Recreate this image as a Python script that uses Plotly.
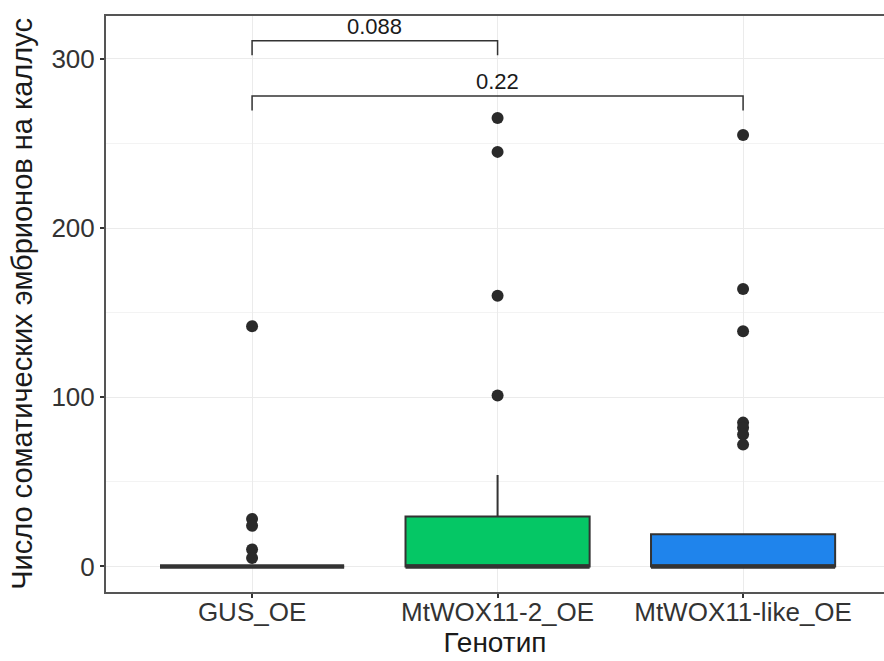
import plotly.graph_objects as go

categories = ["GUS_OE", "MtWOX11-2_OE", "MtWOX11-like_OE"]
q1 = [0, 0, 0]
median = [0, 0, 0]
q3 = [0, 29.5, 19]
lower_fence = [0, 0, 0]
upper_fence = [0, 54, 19]
outliers = [
    [142, 28, 24, 10, 5],
    [265, 245, 160, 101],
    [255, 164, 139, 85, 82, 78, 72],
]
fills = ["#F8766D", "#05C765", "#1F84EC"]

bracket_from = [0, 0]
bracket_to = [1, 2]
bracket_y = [310.6, 278]
bracket_tip = 8.5
bracket_labels = ["0.088", "0.22"]

y_ticks = [0, 100, 200, 300]
y_minor = [50, 150, 250]

box_half = 0.375
line_col = "#333333"

fig = go.Figure()
for i, cat in enumerate(categories):
    fig.add_trace(go.Box(
        x=[i], q1=[q1[i]], median=[median[i]], q3=[q3[i]],
        lowerfence=[lower_fence[i]], upperfence=[upper_fence[i]],
        fillcolor=fills[i], line=dict(color=line_col, width=2),
        boxpoints=False, width=2 * box_half, whiskerwidth=0,
        showlegend=False, hoverinfo="skip",
    ))
    fig.add_trace(go.Scatter(
        x=[i - box_half, i + box_half], y=[median[i], median[i]],
        mode="lines", line=dict(color=line_col, width=4.5),
        showlegend=False, hoverinfo="skip",
    ))
    fig.add_trace(go.Scatter(
        x=[i] * len(outliers[i]), y=outliers[i], mode="markers",
        marker=dict(color="#2a2a2a", size=12),
        showlegend=False, hoverinfo="skip",
    ))

for a, b, yv, lab in zip(bracket_from, bracket_to, bracket_y, bracket_labels):
    fig.add_shape(type="path", xref="x", yref="y",
                  path=f"M {a} {yv - bracket_tip} L {a} {yv} L {b} {yv} L {b} {yv - bracket_tip}",
                  line=dict(color="#333333", width=1.5))
    fig.add_annotation(x=(a + b) / 2, y=yv, xref="x", yref="y", text=lab,
                       showarrow=False, yanchor="bottom", yshift=0,
                       font=dict(size=22, color="#1a1a1a"))

fig.update_layout(
    width=884, height=661,
    margin=dict(l=106, r=0, t=16, b=69),
    plot_bgcolor="white", paper_bgcolor="white",
    font=dict(family="Liberation Sans, Arial, sans-serif"),
    boxmode="overlay",
)
fig.update_xaxes(
    automargin=False,
    range=[-0.595, 2.574],
    tickvals=list(range(len(categories))), ticktext=categories,
    showgrid=True, gridcolor="#EBEBEB", gridwidth=1.2,
    zeroline=False,
    showline=True, linecolor="#555555", linewidth=2, mirror=True,
    ticks="outside", ticklen=4, tickcolor="#333333", tickwidth=1.5,
    ticklabelstandoff=-8,
    tickfont=dict(size=26, color="#333333"),
    title=dict(text="Генотип", font=dict(size=28, color="#1a1a1a"), standoff=4),
)
fig.update_yaxes(
    automargin=False,
    range=[-15.1, 325.3],
    tickvals=y_ticks,
    showgrid=True, gridcolor="#EBEBEB", gridwidth=1.2,
    minor=dict(tickvals=y_minor, showgrid=True, gridcolor="#F3F3F3", gridwidth=1),
    zeroline=False,
    showline=True, linecolor="#555555", linewidth=2,
    ticks="outside", ticklen=4, tickcolor="#333333", tickwidth=1.5,
    tickfont=dict(size=26, color="#333333"),
    title=dict(text="Число соматических эмбрионов на каллус",
               font=dict(size=29, color="#1a1a1a"), standoff=10),
)

fig.write_html("out.html",
               config={"displayModeBar": False},
               post_script="document.body.style.margin='0';document.body.style.overflow='hidden';")
